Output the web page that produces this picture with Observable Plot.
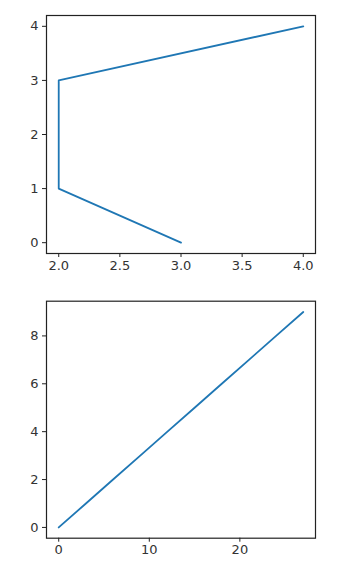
<!DOCTYPE html>
<html>
<head>
<meta charset="utf-8">
<script src="https://cdn.jsdelivr.net/npm/d3@7"></script>
<script src="https://cdn.jsdelivr.net/npm/@observablehq/plot@0.6"></script>
<style>
  html, body { margin: 0; padding: 0; background: #fff; }
  #wrap { position: relative; width: 360px; height: 576px; }
  #wrap svg { position: absolute; left: 0; font-family: "DejaVu Sans", sans-serif; }
</style>
</head>
<body>
<div id="wrap"></div>
<script>
// Top subplot data
const topX = [3, 2, 2, 4];
const topY = [0, 1, 3, 4];
const topXTicks = [2.0, 2.5, 3.0, 3.5, 4.0];
const topYTicks = [0, 1, 2, 3, 4];

// Bottom subplot data
const botX = [0, 3, 6, 9, 12, 15, 18, 21, 24, 27];
const botY = [0, 1, 2, 3, 4, 5, 6, 7, 8, 9];
const botXTicks = [0, 10, 20];
const botYTicks = [0, 2, 4, 6, 8];

const lineColor = "#1f77b4";
const wrapEl = document.getElementById("wrap");

function panel({xs, ys, xDomain, yDomain, xTicks, yTicks, xFmt, height, marginTop, marginBottom}) {
  const data = xs.map((x, i) => ({x, y: ys[i]}));
  return Plot.plot({
    width: 360,
    height,
    marginLeft: 46,
    marginRight: 45,
    marginTop,
    marginBottom,
    style: {fontSize: "13px", fontFamily: "DejaVu Sans, sans-serif", color: "#333", background: "#fff"},
    x: {domain: xDomain},
    y: {domain: yDomain},
    marks: [
      Plot.line(data, {x: "x", y: "y", stroke: lineColor, strokeWidth: 1.8}),
      Plot.frame({stroke: "#222", strokeWidth: 1.2}),
      Plot.axisX({ticks: xTicks, tickFormat: xFmt, tickSize: 4, tickPadding: 3, label: null, stroke: "#222", fill: "#333"}),
      Plot.axisY({ticks: yTicks, tickFormat: d3.format("d"), tickSize: 4, tickPadding: 4, label: null, stroke: "#222", fill: "#333"})
    ]
  });
}

const topPanel = panel({
  xs: topX, ys: topY,
  xDomain: [1.9, 4.1], yDomain: [-0.2, 4.2],
  xTicks: topXTicks, yTicks: topYTicks, xFmt: d3.format(".1f"),
  height: 290, marginTop: 15, marginBottom: 37
});
topPanel.style.top = "0px";
wrapEl.appendChild(topPanel);

const botPanel = panel({
  xs: botX, ys: botY,
  xDomain: [-1.35, 28.35], yDomain: [-0.45, 9.45],
  xTicks: botXTicks, yTicks: botYTicks, xFmt: d3.format("d"),
  height: 286, marginTop: 10.7, marginBottom: 38.3
});
botPanel.style.top = "290px";
wrapEl.appendChild(botPanel);
</script>
</body>
</html>
